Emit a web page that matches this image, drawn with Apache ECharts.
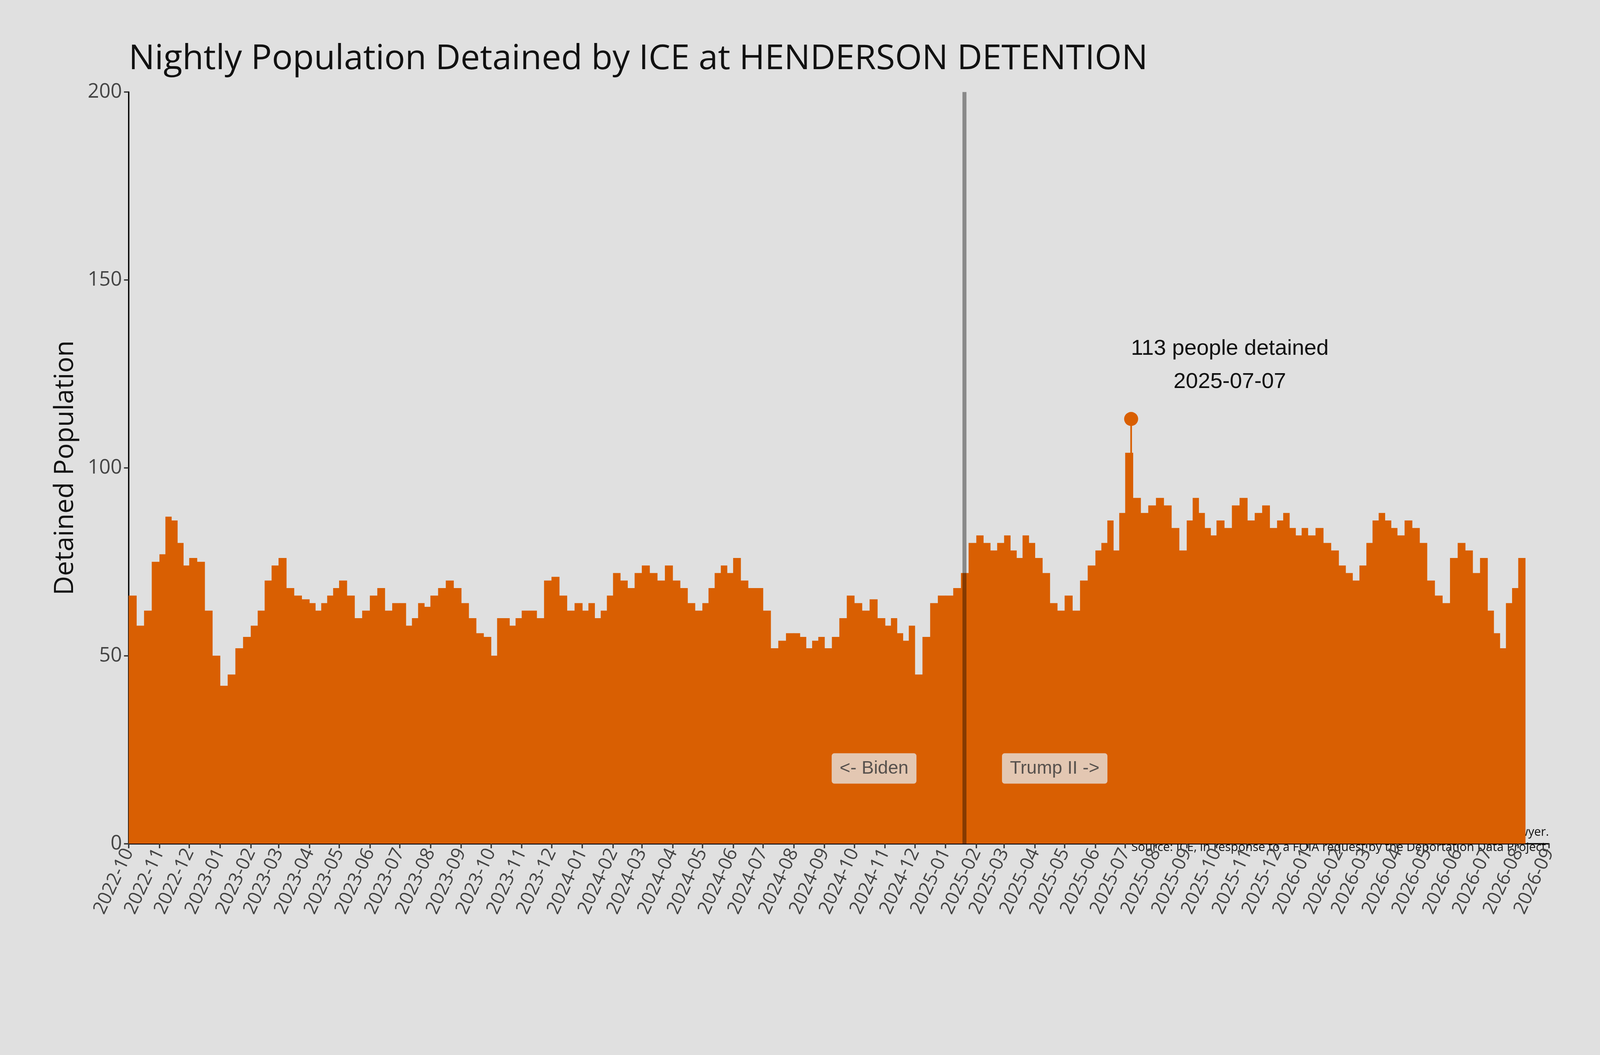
<!DOCTYPE html>
<html><head><meta charset="utf-8">
<script src="https://cdn.jsdelivr.net/npm/echarts@6/dist/echarts.min.js"></script>
<style>html,body{margin:0;padding:0;background:#e0e0e0;overflow:hidden}#c{width:100vw;height:100vh}</style>
</head><body><div id="c"></div>
<script>
const monthStarts = ["2022-10","2022-11","2022-12","2023-01","2023-02","2023-03","2023-04","2023-05","2023-06","2023-07","2023-08","2023-09","2023-10","2023-11","2023-12","2024-01","2024-02","2024-03","2024-04","2024-05","2024-06","2024-07","2024-08","2024-09","2024-10","2024-11","2024-12","2025-01","2025-02","2025-03","2025-04","2025-05","2025-06","2025-07","2025-08","2025-09","2025-10","2025-11","2025-12","2026-01","2026-02","2026-03","2026-04","2026-05","2026-06","2026-07","2026-08"];
const monthlyReadings = [
[66,58,62,75],[77,87,86,80,74],[76,75,62,50],[42,45,52,55],[58,62,70,74],[76,68,66,65],[64,62,64,66,68],[70,66,60,62],[66,68,62,64],[64,58,60,64,63],[66,68,70,68],[64,60,56,55],[50,60,60,58,60],[62,62,60,70],[71,66,62,64],[62,64,60,62,66],[72,70,68,72],[74,72,70,74],[70,68,64,62],[64,68,72,74,72],[76,70,68,68],[62,52,54,56],[56,55,52,54,55],[52,55,60,66],[64,62,65,60],[58,60,56,54,58],[45,55,64,66],[66,68,72,80],[82,80,78,80],[82,78,76,82,80],[76,72,64,62],[66,62,70,74],[78,80,86,78,88],[104,92,88,90],[92,90,84,78],[86,92,88,84,82],[86,84,90,92],[86,88,90,84],[86,88,84,82,84],[82,84,80,78],[74,72,70,74],[80,86,88,86,84],[82,86,84,80],[70,66,64,76],[80,78,72,76],[62,56,52,64,68],[76]
];
const dataEnd = "2026-08-08";
const peakDate = "2025-07-07", peakValue = 113;
const transitionDate = "2025-01-20";
const eraLabels = ["<- Biden","Trump II ->"];
const eraLabelDates = ["2024-10-21","2025-04-21"];

const rows = [];
monthStarts.forEach((m,i)=>{
  const s = +new Date(m+"-01T00:00:00Z");
  const e = i+1<monthStarts.length ? +new Date(monthStarts[i+1]+"-01T00:00:00Z") : +new Date(dataEnd+"T00:00:00Z");
  const vals = monthlyReadings[i], step=(e-s)/vals.length;
  vals.forEach((v,j)=>rows.push([s+j*step, s+(j+1)*step, v]));
});
const S = window.innerWidth/4800;
const k = v=>v*S;
const font = "Open Sans";
const chart = echarts.init(document.getElementById('c'));
chart.setOption({
  backgroundColor:'#e0e0e0',
  animation:false,
  title:{text:'Nightly Population Detained by ICE at HENDERSON DETENTION',left:k(380),top:k(120),textStyle:{fontFamily:font,fontWeight:'normal',fontSize:k(104),color:'#111'}},
  grid:{left:k(386),right:k(153),top:k(276),bottom:k(634)},
  xAxis:{type:'time',min:+new Date('2022-10-01T00:00:00Z'),max:+new Date('2026-09-01T00:00:00Z'),
    splitNumber:47,minInterval:28*864e5,maxInterval:31*864e5,
    axisLine:{lineStyle:{color:'#000',width:k(4)}},axisTick:{show:true,length:k(14),lineStyle:{color:'#333',width:k(4)}},
    splitLine:{show:false},
    axisLabel:{rotate:65,fontFamily:font,fontSize:k(56),color:'#444',margin:k(18),formatter:v=>{const d=new Date(v);return d.getUTCFullYear()+'-'+String(d.getUTCMonth()+1).padStart(2,'0');},hideOverlap:false,showMinLabel:true,showMaxLabel:true}},
  yAxis:{type:'value',min:0,max:200,interval:50,name:'Detained Population',nameLocation:'middle',nameGap:k(150),
    nameTextStyle:{fontFamily:font,fontSize:k(80),color:'#111'},
    axisLine:{show:true,lineStyle:{color:'#000',width:k(4)}},axisTick:{show:true,length:k(14),lineStyle:{color:'#333',width:k(4)}},
    splitLine:{show:false},axisLabel:{fontFamily:font,fontSize:k(60),color:'#444',margin:k(20)}},
  graphic:[
    {type:'text',right:k(153),top:k(2478),style:{text:'Chart: Adam Sawyer.',fontFamily:font,fontSize:k(36),fill:'#111',align:'right'}},
    {type:'text',right:k(153),top:k(2524),style:{text:'Source: ICE, in response to a FOIA request by the Deportation Data Project.',fontFamily:font,fontSize:k(36),fill:'#111',align:'right'}}
  ],
  series:[
    {type:'custom',data:rows,z:1,encode:{x:[0,1],y:2},renderItem:(p,api)=>{
      const a=api.coord([api.value(0),api.value(2)]), b=api.coord([api.value(1),0]);
      return {type:'rect',shape:{x:a[0],y:a[1],width:b[0]-a[0]+0.8,height:b[1]-a[1]},style:{fill:'#d95f02'}};
    }},
    {type:'line',data:[[peakDate,0],[peakDate,peakValue]],symbol:'none',lineStyle:{color:'#d95f02',width:k(5)},z:3,silent:true},
    {type:'scatter',z:5,data:[[peakDate,peakValue]],symbolSize:k(42),itemStyle:{color:'#d95f02',opacity:1},
      label:{show:true,position:'top',distance:k(40),offset:[k(296),0],formatter:'113 people detained\n2025-07-07',fontFamily:'Liberation Sans',fontSize:k(66),lineHeight:k(100),color:'#111',align:'center'},
      markLine:{symbol:'none',silent:true,label:{show:false},lineStyle:{color:'rgba(0,0,0,0.39)',width:k(12),type:'solid'},data:[{xAxis:+new Date(transitionDate+'T00:00:00Z')}]}},
    {type:'scatter',z:6,symbolSize:0,data:eraLabelDates.map(d=>[d,20]),
      label:{show:true,position:'inside',formatter:p=>eraLabels[p.dataIndex],fontFamily:'Liberation Sans',fontSize:k(55),color:'#333',backgroundColor:'#e5e1de',padding:[k(18),k(24)],borderRadius:k(8)}}
  ]
});
</script></body></html>
